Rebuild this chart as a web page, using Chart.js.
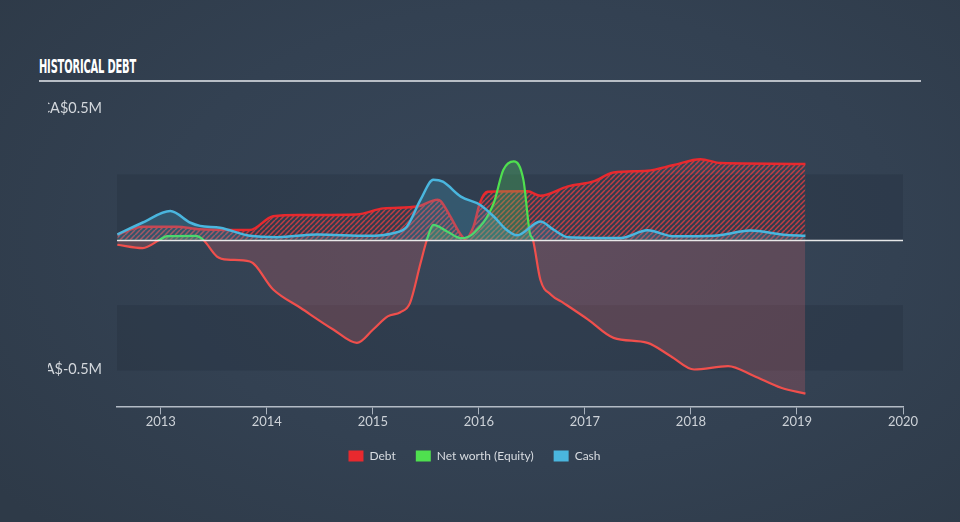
<!DOCTYPE html>
<html>
<head>
<meta charset="utf-8">
<script src="https://cdn.jsdelivr.net/npm/chart.js@4.4.1/dist/chart.umd.min.js"></script>
<style>
  html, body { margin:0; padding:0; width:960px; height:522px; overflow:hidden; }
  body { background: radial-gradient(ellipse 70% 80% at 55% 45%, #38475a 0%, #334152 55%, #2e3a48 100%); position:relative; }
  #title { position:absolute; left:39px; top:55px; font-family:"Liberation Sans Narrow","DejaVu Sans Condensed",sans-serif; font-weight:bold; font-size:19px; color:#ffffff; white-space:nowrap; transform-origin:0 0; letter-spacing:-0.3px; }
  #rule { position:absolute; left:39px; top:80px; width:882px; height:2px; background:#b8bec6; }
  #wrap { position:absolute; left:0; top:0; width:960px; height:522px; }
</style>
</head>
<body>
<div id="title">HISTORICAL DEBT</div>
<div id="rule"></div>
<div id="wrap"><canvas id="c" width="960" height="522"></canvas></div>
<script>
// ---- data (x in decimal years, y in CA$ millions) ----
const X_MIN = 2012.587;
const X_MAX = 2020;
const YEAR_TICKS = [2013, 2014, 2015, 2016, 2017, 2018, 2019, 2020];
const Y_MIN = -0.637;
const Y_MAX = 0.5725;
const Y_TICKS = [0.5, -0.5];
const Y_TICK_LABELS = ['CA$0.5M', 'CA$-0.5M'];
const BANDS = [[0, 0.25], [-0.5, -0.25]];

const debtX = [2012.59, 2012.83, 2013.15, 2013.37, 2013.84, 2014.06, 2014.32, 2014.85, 2015.10, 2015.42, 2015.61, 2015.64, 2015.73, 2015.83, 2015.87, 2015.95, 2016.01, 2016.08, 2016.46, 2016.58, 2016.84, 2017.08, 2017.27, 2017.59, 2017.84, 2018.09, 2018.28, 2019.08];
const debtY = [0.02, 0.05, 0.05, 0.04, 0.037, 0.09, 0.095, 0.097, 0.12, 0.127, 0.153, 0.148, 0.089, 0.019, 0.003, 0.051, 0.141, 0.184, 0.185, 0.168, 0.204, 0.223, 0.257, 0.264, 0.286, 0.308, 0.293, 0.29];

const equityX = [2012.59, 2012.83, 2012.99, 2013.06, 2013.33, 2013.40, 2013.53, 2013.63, 2013.84, 2014.06, 2014.32, 2014.63, 2014.85, 2015.00, 2015.14, 2015.26, 2015.35, 2015.45, 2015.51, 2015.57, 2015.70, 2015.83, 2015.95, 2016.14, 2016.23, 2016.33, 2016.42, 2016.48, 2016.51, 2016.58, 2016.68, 2016.80, 2017.03, 2017.27, 2017.59, 2017.81, 2018.03, 2018.35, 2018.59, 2018.85, 2019.08];
const equityY = [-0.019, -0.032, 0.0, 0.014, 0.015, 0.0, -0.064, -0.076, -0.083, -0.19, -0.261, -0.344, -0.394, -0.344, -0.293, -0.277, -0.242, -0.089, 0.0, 0.057, 0.032, 0.006, 0.025, 0.14, 0.267, 0.30, 0.229, 0.027, 0.0, -0.153, -0.21, -0.242, -0.305, -0.375, -0.394, -0.445, -0.496, -0.483, -0.52, -0.566, -0.588];

const cashX = [2012.59, 2012.83, 2013.09, 2013.28, 2013.37, 2013.56, 2013.84, 2014.10, 2014.48, 2014.95, 2015.19, 2015.32, 2015.45, 2015.57, 2015.66, 2015.83, 2016.01, 2016.14, 2016.26, 2016.36, 2016.58, 2016.70, 2016.84, 2017.34, 2017.59, 2017.84, 2018.22, 2018.56, 2018.88, 2019.08];
const cashY = [0.02, 0.066, 0.11, 0.065, 0.053, 0.046, 0.015, 0.01, 0.02, 0.015, 0.025, 0.05, 0.153, 0.229, 0.222, 0.165, 0.134, 0.089, 0.038, 0.017, 0.07, 0.04, 0.01, 0.007, 0.036, 0.013, 0.015, 0.035, 0.019, 0.015];

const SERIES_NAMES = ['Debt', 'Net worth (Equity)', 'Cash'];
const SERIES_COLORS = ['#e8292e', '#4fe04f', '#4ab6de'];
const EQUITY_NEG = '#f04f4c';

const pts = (xs, ys) => xs.map((x, i) => ({x, y: ys[i]}));

function hatch(color) {
  const s = 5;
  const c = document.createElement('canvas'); c.width = s; c.height = s;
  const g = c.getContext('2d');
  g.strokeStyle = color; g.lineWidth = 1.5;
  g.beginPath();
  for (let k = -1; k <= 1; k++) { g.moveTo(k * s, s); g.lineTo(k * s + s, 0); }
  g.stroke();
  return g.createPattern(c, 'repeat');
}

function equityStroke(ctx) {
  const chart = ctx.chart;
  const area = chart.chartArea;
  if (!area) return SERIES_COLORS[1];
  const y0 = chart.scales.y.getPixelForValue(0);
  const g = chart.ctx.createLinearGradient(0, area.top, 0, area.bottom);
  const f = Math.min(1, Math.max(0, (y0 - area.top) / (area.bottom - area.top)));
  g.addColorStop(0, SERIES_COLORS[1]); g.addColorStop(f, SERIES_COLORS[1]);
  g.addColorStop(f, EQUITY_NEG); g.addColorStop(1, EQUITY_NEG);
  return g;
}

const decor = {
  id: 'decor',
  beforeDatasetsDraw(chart) {
    const {ctx, chartArea: {left, right}, scales: {y}} = chart;
    ctx.save();
    ctx.fillStyle = 'rgba(28,38,50,0.22)';
    BANDS.forEach(([a, b]) => {
      const y1 = y.getPixelForValue(b), y2 = y.getPixelForValue(a);
      ctx.fillRect(left, y1, right - left, y2 - y1);
    });
    ctx.restore();
  },
  afterDatasetsDraw(chart) {
    const {ctx, chartArea: {left, right}, scales: {y}} = chart;
    const y0 = Math.round(y.getPixelForValue(0)) + 0.5;
    ctx.save();
    ctx.strokeStyle = 'rgba(240,240,240,0.95)';
    ctx.lineWidth = 1.5;
    ctx.beginPath(); ctx.moveTo(left, y0); ctx.lineTo(right, y0); ctx.stroke();
    ctx.restore();
  },
  afterDraw(chart) {
    const {ctx, scales: {y}} = chart;
    ctx.save();
    ctx.beginPath(); ctx.rect(48, 0, 960, 522); ctx.clip();
    ctx.font = '14.5px Lato';
    ctx.fillStyle = '#d3d7dc';
    ctx.textAlign = 'right';
    ctx.textBaseline = 'middle';
    Y_TICKS.forEach((v, i) => ctx.fillText(Y_TICK_LABELS[i], 102, y.getPixelForValue(v) - 1));
    ctx.restore();
  }
};

function draw() {
  const t = document.getElementById('title');
  const w = t.getBoundingClientRect().width;
  if (w > 0) t.style.transform = 'scaleX(' + (97 / w) + ')';

  const ctx = document.getElementById('c').getContext('2d');
  new Chart(ctx, {
    type: 'line',
    data: {
      datasets: [
        { label: SERIES_NAMES[2], rank: 2, data: pts(cashX, cashY), borderColor: SERIES_COLORS[2], borderWidth: 2.5,
          backgroundColor: 'rgba(74,182,222,0.22)', fill: 'origin', pointRadius: 0, cubicInterpolationMode: 'monotone' },
        { label: SERIES_NAMES[1], rank: 1, data: pts(equityX, equityY), borderColor: equityStroke, borderWidth: 2.2,
          fill: {target: 'origin', above: 'rgba(80,215,95,0.28)', below: 'rgba(210,95,105,0.25)'},
          pointRadius: 0, cubicInterpolationMode: 'monotone' },
        { label: SERIES_NAMES[0], rank: 0, data: pts(debtX, debtY), borderColor: SERIES_COLORS[0], borderWidth: 2.5,
          backgroundColor: hatch('rgba(228,62,66,0.8)'), fill: 'origin', pointRadius: 0, cubicInterpolationMode: 'monotone' }
      ]
    },
    options: {
      responsive: false,
      animation: false,
      events: [],
      layout: { padding: { left: 0, right: 11, top: 90, bottom: 50 } },
      scales: {
        x: {
          type: 'linear', min: X_MIN, max: X_MAX,
          afterBuildTicks: s => { s.ticks = YEAR_TICKS.map(v => ({value: v})); },
          grid: { display: true, drawOnChartArea: false, drawTicks: true, tickLength: 8, color: '#a9b2bd', lineWidth: 1 },
          border: { display: true, color: '#b3bbc5', width: 1.5 },
          ticks: { color: '#cdd2d8', font: {family: 'Lato', size: 13}, padding: 0, maxRotation: 0, autoSkip: false,
                   callback: v => String(v) }
        },
        y: {
          min: Y_MIN, max: Y_MAX, display: true,
          grid: { display: false }, border: { display: false }, ticks: { display: false },
          afterFit: s => { s.width = 117; }
        },
        yR: {
          position: 'right', display: true, min: 0, max: 1,
          grid: { display: false }, border: { display: false }, ticks: { display: false },
          afterFit: s => { s.width = 46; }
        }
      },
      plugins: {
        tooltip: { enabled: false },
        legend: {
          position: 'bottom',
          labels: {
            boxWidth: 15, boxHeight: 11, padding: 20, color: '#d8dce1',
            font: { family: 'Lato', size: 12 },
            generateLabels: chart => chart.data.datasets.map((d, i) => ({
              text: d.label, fillStyle: SERIES_COLORS[d.rank], strokeStyle: SERIES_COLORS[d.rank],
              lineWidth: 0, hidden: false, datasetIndex: i, rank: d.rank, fontColor: '#d8dce1'
            })),
            sort: (a, b) => a.rank - b.rank
          }
        }
      }
    },
    plugins: [decor]
  });
}

if (document.fonts && document.fonts.load) {
  Promise.all([document.fonts.load('12px Lato'), document.fonts.load('bold 19px "Liberation Sans Narrow"')])
    .then(draw, draw);
} else { draw(); }
</script>
</body>
</html>
